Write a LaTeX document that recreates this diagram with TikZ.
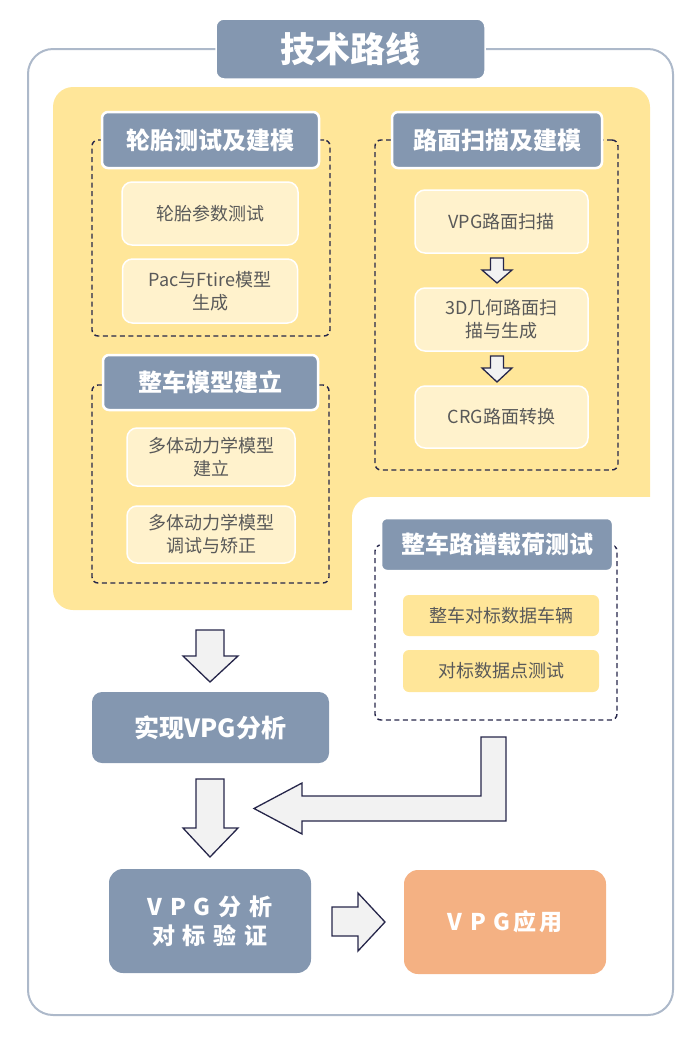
\documentclass[tikz,border=0pt]{standalone}
\usepackage{fontspec}
\setmainfont{Noto Sans CJK SC}
\definecolor{hdr}{HTML}{8497B0}
\definecolor{ybg}{HTML}{FFE699}
\definecolor{lite}{HTML}{FFF2CC}
\definecolor{orng}{HTML}{F4B183}
\definecolor{frm}{HTML}{ADB9CA}
\definecolor{navy}{HTML}{26264A}
\definecolor{afill}{HTML}{F2F2F2}
\definecolor{txt}{HTML}{595959}
\newcommand\lsp{\hspace{8pt}}
\begin{document}
\begin{tikzpicture}[x=1pt,y=-1pt,
  hdrbox/.style={draw=white, line width=2.5pt, fill=hdr, rounded corners=6pt, text=white,
    font=\bfseries\fontsize{24}{28}\selectfont, inner sep=0pt},
  litebox/.style={draw=white, line width=1.5pt, fill=lite, rounded corners=10pt, text=txt,
    font=\fontsize{18}{23}\selectfont, align=center, inner sep=0pt},
  ybox/.style={fill=ybg, rounded corners=6pt, text=txt,
    font=\fontsize{18}{23}\selectfont, align=center, inner sep=0pt},
  dashbox/.style={draw=navy, line width=1.4pt, dash pattern=on 5pt off 3.5pt, rounded corners=6pt, inner sep=0pt},
  bigbox/.style={rounded corners=14pt, text=white, align=center, inner sep=0pt,
    font=\bfseries\fontsize{23}{29}\selectfont},
  blockarrow/.style={draw=navy, line width=1.3pt, fill=afill, line join=miter}]
\useasboundingbox (0,0) rectangle (690,1037);
% outer frame
\node[draw=frm, line width=2pt, rounded corners=25pt, minimum width=645, minimum height=966, inner sep=0pt] (frame) at (350.5,532) {};
\node[fill=hdr, draw=white, line width=1.5pt, rounded corners=8pt, minimum width=269, minimum height=60, inner sep=0pt,
  text=white, font=\bfseries\fontsize{35}{38}\selectfont] (title) at (350.5,49) {技术路线};
% yellow background
\fill[ybg, rounded corners=20pt] (53,87) rectangle (650,610);
\fill[white, rounded corners=20pt] (352,497) rectangle (671,650);
% dashed groups
\node[dashbox, minimum width=238, minimum height=196] (d1) at (211,238) {};
\node[dashbox, minimum width=243, minimum height=330] (d2) at (496.5,305) {};
\node[dashbox, minimum width=237, minimum height=198] (d3) at (210.5,484) {};
\node[dashbox, minimum width=242, minimum height=175] (d4) at (496,632.5) {};
% headers
\node[hdrbox, minimum width=217, minimum height=56] (h1) at (210.5,140) {轮胎测试及建模};
\node[hdrbox, minimum width=210, minimum height=56] (h2) at (497,140) {路面扫描及建模};
\node[hdrbox, minimum width=215, minimum height=55] (h3) at (210.5,382.5) {整车模型建立};
\node[hdrbox, minimum width=232, minimum height=53] (h4) at (497,544.5) {整车路谱载荷测试};
% inner boxes
\node[litebox, minimum width=176, minimum height=63] (b1) at (210,213.5) {轮胎参数测试};
\node[litebox, minimum width=175, minimum height=64] (b2) at (210,291) {Pac与Ftire模型\\生成};
\node[litebox, minimum width=173, minimum height=63] (r1) at (501.5,221.5) {VPG路面扫描};
\node[litebox, minimum width=173, minimum height=63] (r2) at (501.5,319.5) {3D几何路面扫\\描与生成};
\node[litebox, minimum width=173, minimum height=62] (r3) at (501.5,417) {CRG路面转换};
\node[litebox, minimum width=168, minimum height=58] (m1) at (211,457) {多体动力学模型\\建立};
\node[litebox, minimum width=168, minimum height=57] (m2) at (211,534.5) {多体动力学模型\\调试与矫正};
\node[ybox, minimum width=196, minimum height=41] (c1) at (501,615.5) {整车对标数据车辆};
\node[ybox, minimum width=196, minimum height=42] (c2) at (501,671) {对标数据点测试};
% bottom boxes
\node[fill=hdr, rounded corners=10pt, minimum width=237, minimum height=71, inner sep=0pt, text=white,
  font=\bfseries\fontsize{25}{30}\selectfont] (vpg) at (210.5,727.5) {实现VPG分析};
\node[bigbox, fill=hdr, minimum width=202, minimum height=104] (ver) at (210,921) {V\lsp P\lsp G\lsp 分\lsp 析\\对\lsp 标\lsp 验\lsp 证};
\node[bigbox, fill=orng, minimum width=202, minimum height=104] (app) at (505,922) {V\lsp P\lsp G\hspace{3pt}应\hspace{3pt}用};
% small arrows in right column
\draw[blockarrow] (490.5,258) -- (503.5,258) -- (503.5,270) -- (512,270) -- (497,283) -- (482,270) -- (490.5,270) -- cycle;
\draw[blockarrow] (490.5,356) -- (503.5,356) -- (503.5,368) -- (512,368) -- (497,382) -- (482,368) -- (490.5,368) -- cycle;
% big down arrows
\draw[blockarrow] (196,630) -- (224,630) -- (224,656) -- (238,656) -- (210,682) -- (183,656) -- (196,656) -- cycle;
\draw[blockarrow] (196,779) -- (224,779) -- (224,828) -- (238,828) -- (210,857) -- (183,828) -- (196,828) -- cycle;
% bent arrow
\draw[blockarrow] (481,737) -- (506,737) -- (506,821) -- (302,821) -- (302,834) -- (254,808.5) -- (302,783) -- (302,796) -- (481,796) -- cycle;
% right arrow
\draw[blockarrow] (332,907) -- (358,907) -- (358,893) -- (385,922) -- (358,951) -- (358,936) -- (332,936) -- cycle;
\end{tikzpicture}
\end{document}
